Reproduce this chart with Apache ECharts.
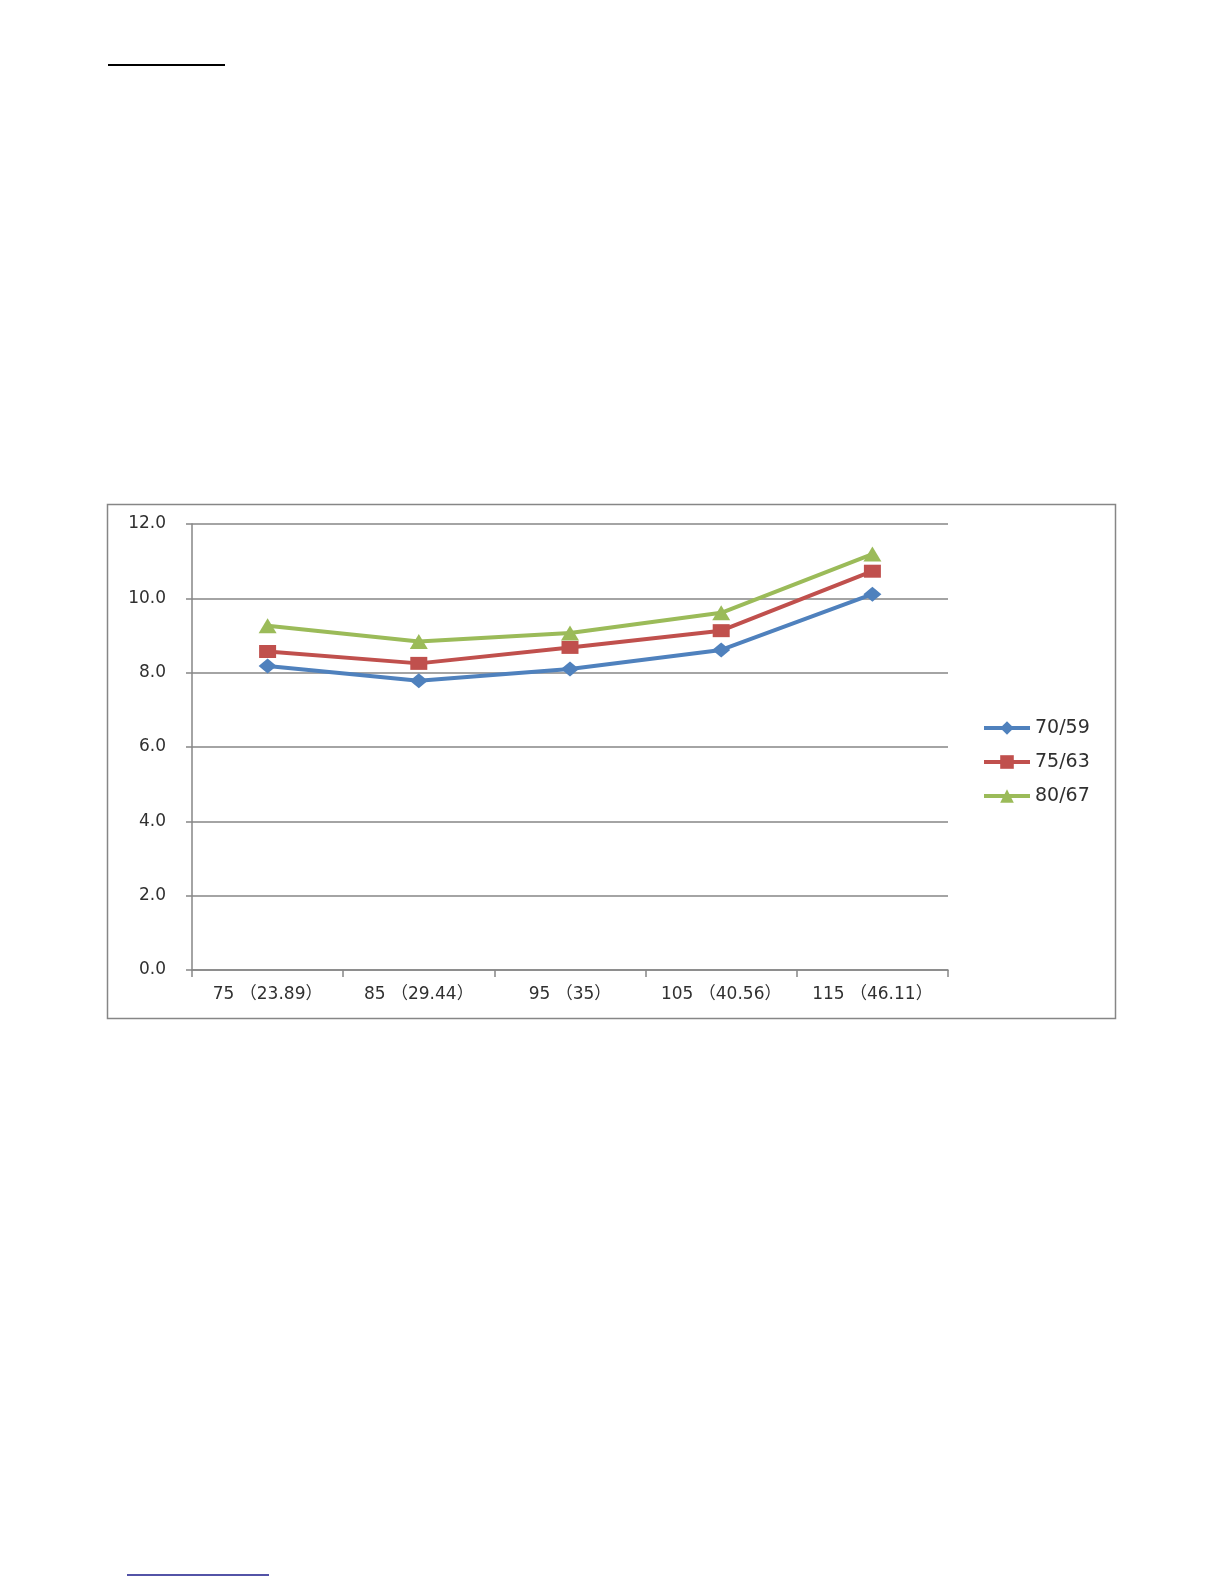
<!DOCTYPE html>
<html>
<head>
<meta charset="utf-8">
<script src="https://cdn.jsdelivr.net/npm/echarts@6/dist/echarts.min.js"></script>
<style>
html,body{margin:0;padding:0;background:#fff;}
#chart{width:1224px;height:1584px;}
</style>
</head>
<body>
<div id="chart"></div>
<script>
const categories = ['75 （23.89）', '85 （29.44）', '95 （35）', '105 （40.56）', '115 （46.11）'];
const seriesNames = ['70/59', '75/63', '80/67'];
const values7059 = [8.18, 7.78, 8.10, 8.61, 10.11];
const values7563 = [8.57, 8.25, 8.68, 9.13, 10.73];
const values8067 = [9.26, 8.84, 9.07, 9.61, 11.19];
const yTicks = [0, 2, 4, 6, 8, 10, 12];

const colors = ['#4F81BD', '#C0504D', '#9BBB59'];
const font = "'DejaVu Sans', 'Noto Sans CJK SC', sans-serif";

const chart = echarts.init(document.getElementById('chart'), null, {renderer: 'canvas'});

function mkSeries(name, data, color, symbol, size) {
  return {
    name: name,
    type: 'line',
    data: data,
    symbol: symbol,
    symbolSize: size,
    showAllSymbol: true,
    lineStyle: {color: color, width: 4},
    itemStyle: {color: color, borderWidth: 0},
    emphasis: {disabled: true},
    animation: false
  };
}

chart.setOption({
  animation: false,
  backgroundColor: '#ffffff',
  grid: {left: 192, right: 276, top: 524, bottom: 614, containLabel: false},
  xAxis: {
    type: 'category',
    data: categories,
    boundaryGap: true,
    axisLine: {show: true, lineStyle: {color: '#868686', width: 1.5}},
    axisTick: {show: true, length: 7, inside: false, lineStyle: {color: '#868686', width: 1.5}},
    axisLabel: {color: '#303030', fontFamily: font, fontSize: 17, margin: 16, interval: 0},
    splitLine: {show: false}
  },
  yAxis: {
    type: 'value',
    min: yTicks[0],
    max: yTicks[yTicks.length - 1],
    interval: 2,
    axisLine: {show: true, lineStyle: {color: '#868686', width: 1.5}},
    axisTick: {show: true, length: 6, inside: false, lineStyle: {color: '#868686', width: 1.5}},
    axisLabel: {color: '#303030', fontFamily: font, fontSize: 17, margin: 26,
      formatter: v => v.toFixed(1)},
    splitLine: {show: true, lineStyle: {color: '#868686', width: 1.5}}
  },
  legend: {
    orient: 'vertical',
    left: 977,
    top: 712,
    itemWidth: 46,
    itemHeight: 17,
    itemGap: 12,
    lineStyle: {width: 4},
    textStyle: {color: '#303030', fontFamily: font, fontSize: 19, lineHeight: 22},
    data: seriesNames
  },
  series: [
    mkSeries(seriesNames[0], values7059, colors[0], 'diamond', [18, 15]),
    mkSeries(seriesNames[1], values7563, colors[1], 'rect', [17, 13]),
    mkSeries(seriesNames[2], values8067, colors[2], 'triangle', [18, 15])
  ],
  graphic: [
    {type: 'rect', shape: {x: 107.5, y: 504.5, width: 1008, height: 514}, style: {fill: null, stroke: '#868686', lineWidth: 1.5}, silent: true, z: -1},
    {type: 'line', shape: {x1: 108, y1: 65, x2: 225, y2: 65}, style: {stroke: '#000000', lineWidth: 1.8}, silent: true},
    {type: 'line', shape: {x1: 127, y1: 1575, x2: 269, y2: 1575}, style: {stroke: '#1a1a8a', lineWidth: 1.5}, silent: true}
  ]
});
</script>
</body>
</html>
